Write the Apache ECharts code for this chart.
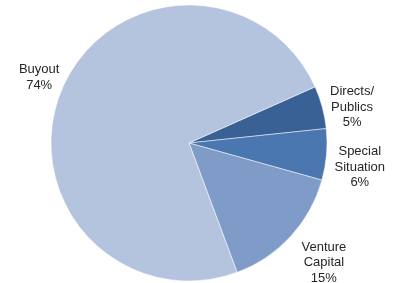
<html>
<head>
<meta charset="utf-8">
<script src="https://cdn.jsdelivr.net/npm/echarts@6/dist/echarts.min.js"></script>
<style>
    html, body { margin: 0; padding: 0; background: #fff; }
    #main { width: 395px; height: 283px; }
</style>
</head>
<body>
<div id="main"></div>
<script>
    // slice names, clockwise from the top of the Directs slice
    var names = ['Directs/\nPublics', 'Special\nSituation', 'Venture\nCapital', 'Buyout'];
    var shares = [5, 6, 15, 74];
    var colors = ['#3a6195', '#4a77b0', '#7f9cc8', '#b4c4de'];

    // small label nudges (px) so the text sits like the original
    var labelNudge = [[-5, 2], [-5, 12], [0, 21], [10, -9]];

    var data = [];
    for (var i = 0; i < names.length; i++) {
        data.push({name: names[i], value: shares[i], itemStyle: {color: colors[i]}});
    }

    var myChart = echarts.init(document.getElementById('main'), null, {renderer: 'canvas'});
    myChart.setOption({
        animation: false,
        series: [{
            type: 'pie',
            center: [189, 143],
            radius: 138,
            startAngle: 24,
            clockwise: true,
            avoidLabelOverlap: false,
            data: data,
            itemStyle: {borderColor: '#fff', borderWidth: 0.5},
            label: {
                show: true,
                position: 'outside',
                formatter: '{b}\n{c}%',
                fontFamily: 'Liberation Sans, Arial, sans-serif',
                fontSize: 13,
                lineHeight: 15.5,
                color: '#262626'
            },
            labelLine: {show: false, length: 8, length2: 0},
            labelLayout: function (p) {
                var r = p.labelRect;
                var n = labelNudge[p.dataIndex];
                return {
                    x: r.x + r.width / 2 + n[0],
                    y: r.y + r.height / 2 + n[1],
                    align: 'center',
                    verticalAlign: 'middle'
                };
            },
            emphasis: {disabled: true}
        }]
    });
</script>
</body>
</html>
